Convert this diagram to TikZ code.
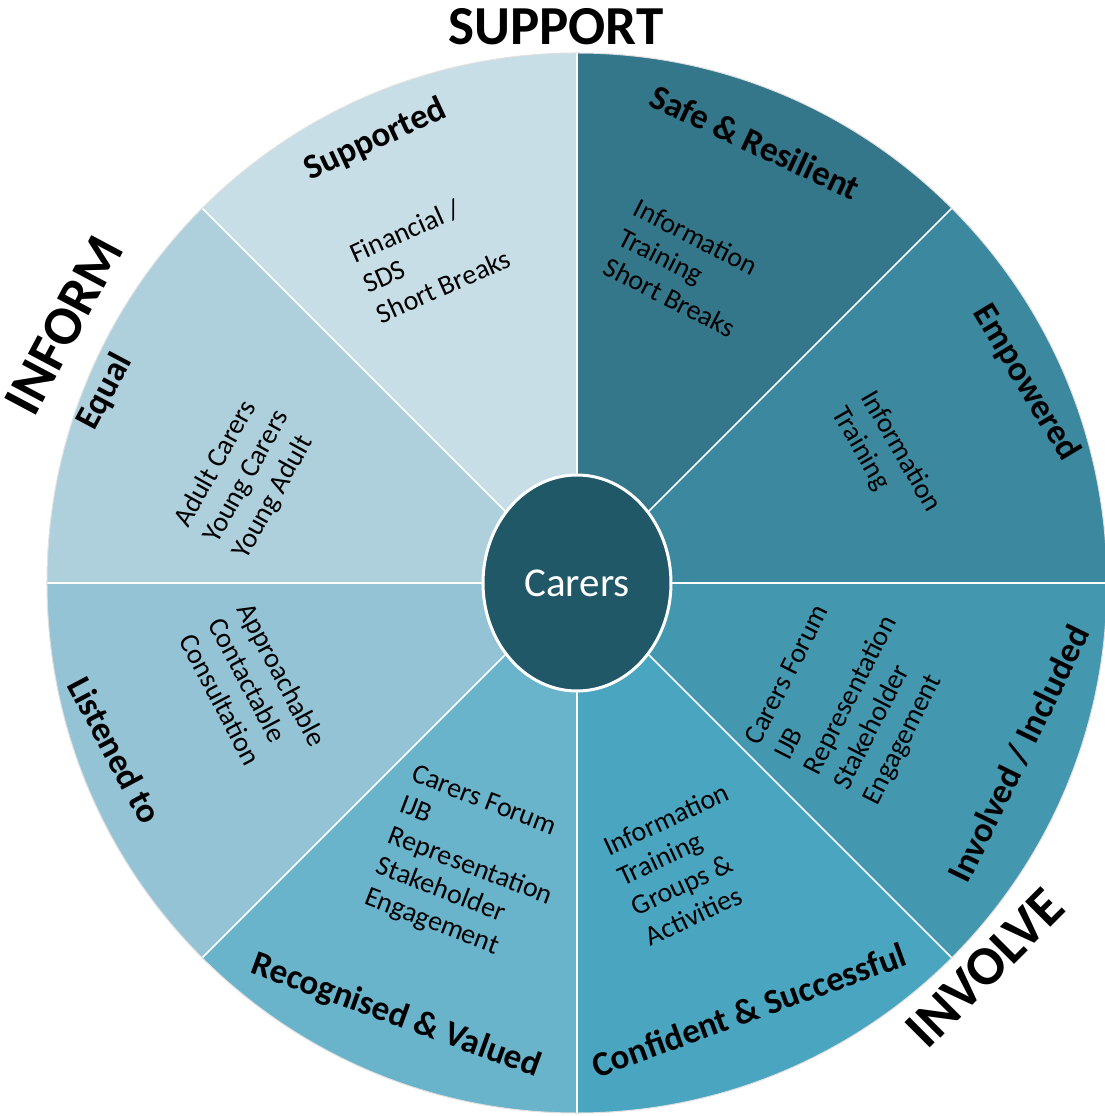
\documentclass[tikz,border=0pt]{standalone}
\usepackage{fontspec}
\setmainfont{Carlito}
\usetikzlibrary{shapes.geometric}

\definecolor{secsupported}{HTML}{C8DEE7}
\definecolor{secsafe}{HTML}{34778A}
\definecolor{secempowered}{HTML}{3B889F}
\definecolor{secinvolved}{HTML}{4397AF}
\definecolor{secconfident}{HTML}{4AA6C0}
\definecolor{secrecognised}{HTML}{69B3CB}
\definecolor{seclistened}{HTML}{93C3D5}
\definecolor{secequal}{HTML}{AED0DD}
\definecolor{carersfill}{HTML}{215868}

\begin{document}
\begin{tikzpicture}[x=1pt,y=1pt,
  seclabel/.style={font=\fontsize{35}{42}\selectfont\bfseries, inner sep=0pt},
  seclist/.style={font=\fontsize{28}{33}\selectfont, align=left, inner sep=0pt},
  bigword/.style={font=\fontsize{55}{66}\selectfont\bfseries, inner sep=0pt}]

\useasboundingbox (-577,-533) rectangle (527,583);

% wheel
\foreach \a/\c in {0/secempowered,45/secsafe,90/secsupported,135/secequal,180/seclistened,225/secrecognised,270/secconfident,315/secinvolved} {
        \fill[\c] (0,0) -- (\a:530) arc[start angle=\a, delta angle=45, radius=530pt] -- cycle;
}
\foreach \a in {0,45,...,315} {
        \draw[white, line width=1.5pt] (0,0) -- (\a:530);
}
\draw[black!12, line width=1pt] (0,0) circle (530pt);

% centre
\node[ellipse, minimum width=188pt, minimum height=216pt, fill=carersfill, draw=white, line width=3pt, text=white, font=\fontsize{41}{49}\selectfont] (carers) at (0,0) {Carers};

% outer words
\node[bigword] (support) at (-21,556) {SUPPORT};
\node[bigword, rotate=62] (inform) at (-513,258) {INFORM};
\node[bigword, rotate=45] (involve) at (408,-385) {INVOLVE};

% sector titles
\node[seclabel, rotate=25] (supported) at (-202,443) {Supported};
\node[seclabel, rotate=-25] (safe) at (178,441) {Safe \& Resilient};
\node[seclabel, rotate=-59] (empowered) at (449,200) {Empowered};
\node[seclabel, rotate=64] (involved) at (442,-171) {Involved / Included};
\node[seclabel, rotate=20] (confident) at (172,-427) {Confident \& Successful};
\node[seclabel, rotate=-20] (recognised) at (-181,-433) {Recognised \& Valued};
\node[seclabel, rotate=-62] (listened) at (-462,-167) {Listened to};
\node[seclabel, rotate=62] (equal) at (-472,191) {Equal};

% sector lists
\node[seclist, rotate=24] (supportedlist) at (-147,327) {Financial /\\SDS\\Short Breaks};
\node[seclist, rotate=-27] (safelist) at (108,315) {Information\\Training\\Short Breaks};
\node[seclist, rotate=-60] (empoweredlist) at (309,123) {Information\\Training};
\node[seclist, rotate=63] (involvedlist) at (275,-113) {Carers Forum\\IJB\\Representation\\Stakeholder\\Engagement};
\node[seclist, rotate=25] (confidentlist) at (110,-281) {Information\\Training\\Groups \&\\Activities};
\node[seclist, rotate=-21] (recognisedlist) at (-107,-284) {Carers Forum\\IJB\\Representation\\Stakeholder\\Engagement};
\node[seclist, rotate=-62] (listenedlist) at (-324,-107) {Approachable\\Contactable\\Consultation};
\node[seclist, rotate=61] (equallist) at (-330,106) {Adult Carers\\Young Carers\\Young Adult};

\end{tikzpicture}
\end{document}
